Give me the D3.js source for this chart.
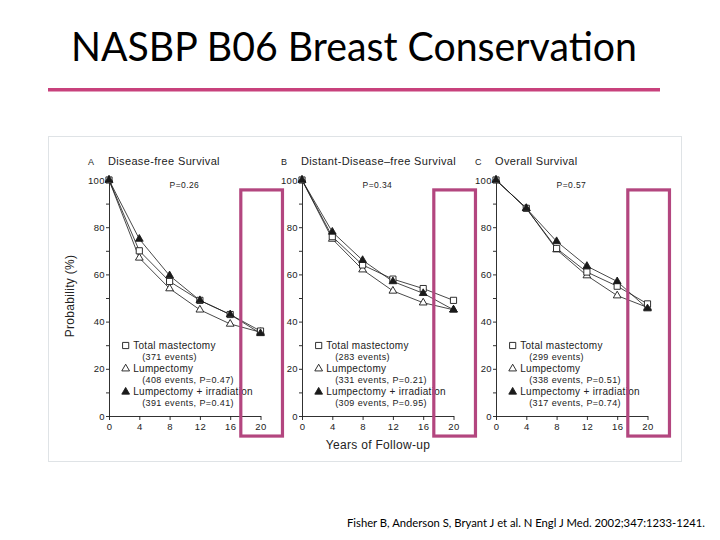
<!DOCTYPE html>
<html><head><meta charset="utf-8">
<script src="https://cdn.jsdelivr.net/npm/d3@7"></script>
<style>html,body{margin:0;padding:0;background:#fff;}svg{display:block;}</style>
</head><body>
<script>
// ---- data ----
const years = [0, 4, 8, 12, 16, 20];
const yTicks = [0, 10, 20, 30, 40, 50, 60, 70, 80, 90, 100];
const panelLetters = ["A", "B", "C"];
const panelTitles = ["Disease-free Survival", "Distant-Disease\u2013free Survival", "Overall Survival"];
const pValues = ["P=0.26", "P=0.34", "P=0.57"];
const seriesNames = ["Total mastectomy", "Lumpectomy", "Lumpectomy + irradiation"];
const eventsMast = ["(371 events)", "(283 events)", "(299 events)"];
const eventsLump = ["(408 events, P=0.47)", "(331 events, P=0.21)", "(338 events, P=0.51)"];
const eventsIrr = ["(391 events, P=0.41)", "(309 events, P=0.95)", "(317 events, P=0.74)"];
const mastA = [100, 70, 57, 49, 43, 36];
const lumpA = [100, 67, 54, 45, 39, 35.5];
const irrA = [100, 75, 59.5, 49, 43, 35];
const mastB = [100, 76, 64, 58, 54, 49];
const lumpB = [100, 75, 62, 53, 48, 45];
const irrB = [100, 78, 66, 57, 52, 45];
const mastC = [100, 88, 71, 61, 55, 47.5];
const lumpC = [100, 88, 70.5, 59.5, 51, 46];
const irrC = [100, 88, 74, 63.5, 57, 45.5];
const highlightYears = [17.4, 22.9];
const highlightValues = [95.8, -8.5];
const titleText = "NASBP B06 Breast Conservation";
const footerText = "Fisher B, Anderson S, Bryant J et al.  N Engl J Med. 2002;347:1233-1241.";

const panelData = [[mastA, lumpA, irrA], [mastB, lumpB, irrB], [mastC, lumpC, irrC]];
const panelX0 = [109, 302, 496];
const panelW = 151.5;

const svg = d3.select("body").append("svg").attr("width", 720).attr("height", 540);
svg.append("rect").attr("width", 720).attr("height", 540).attr("fill", "#fff");

// title
svg.append("text").attr("x", 71).attr("y", 61)
  .attr("font-family", "Lato, 'Open Sans', sans-serif").attr("font-size", 40)
  .attr("textLength", 566).attr("lengthAdjust", "spacingAndGlyphs")
  .attr("fill", "#000").text(titleText);
svg.append("line").attr("x1", 48).attr("x2", 660).attr("y1", 89.8).attr("y2", 89.8)
  .attr("stroke", "#c8417c").attr("stroke-width", 3.4);

// image frame
svg.append("rect").attr("x", 48.5).attr("y", 136.5).attr("width", 633).attr("height", 325)
  .attr("fill", "#fff").attr("stroke", "#dfe3e6").attr("stroke-width", 1);

const y = d3.scaleLinear().domain([0, 100]).range([416, 180]);
const FONT = "'Liberation Sans', Arial, sans-serif";
const ink = "#1a1a1a";

panelData.forEach((series, i) => {
  const x = d3.scaleLinear().domain([0, 20]).range([panelX0[i], panelX0[i] + panelW]);
  const g = svg.append("g");

  // axes
  const ya = g.append("g").attr("transform", `translate(${panelX0[i]},0)`)
    .call(d3.axisLeft(y).tickValues(yTicks).tickSize(3).tickSizeOuter(0)
      .tickFormat(d => d % 20 === 0 ? d : ""));
  const xa = g.append("g").attr("transform", `translate(0,${y(0)})`)
    .call(d3.axisBottom(x).tickValues(years).tickSize(4).tickSizeOuter(0));
  [ya, xa].forEach(a => {
    a.selectAll("path,line").attr("stroke", ink).attr("stroke-width", 0.9);
    a.selectAll("text").attr("font-family", FONT).attr("font-size", 9.5)
      .attr("letter-spacing", 0.4).attr("fill", "#222");
  });
  ya.selectAll("text").attr("x", -4);
  xa.selectAll("text").attr("y", 7);

  // panel title
  g.append("text").attr("x", panelX0[i] - 21).attr("y", 165).attr("font-family", FONT)
    .attr("font-size", 9).attr("fill", "#222").text(panelLetters[i]);
  g.append("text").attr("x", panelX0[i] - 1).attr("y", 165).attr("font-family", FONT)
    .attr("font-size", 11).attr("letter-spacing", 0.35).attr("fill", "#222").text(panelTitles[i]);
  g.append("text").attr("x", x(8.0)).attr("y", y(96.5)).attr("font-family", FONT)
    .attr("font-size", 8.5).attr("letter-spacing", 0.4).attr("fill", "#222").text(pValues[i]);

  // lines
  const line = d3.line().x((d, k) => x(years[k])).y(d => y(d));
  series.forEach(s => {
    g.append("path").datum(s).attr("d", line).attr("fill", "none")
      .attr("stroke", ink).attr("stroke-width", 0.8);
  });

  // markers
  const tri = d3.symbol().type(d3.symbolTriangle).size(26);
  const sq = d3.symbol().type(d3.symbolSquare).size(38);
  const drawMarkers = (s, shape, fill) => {
    g.selectAll(null).data(s).enter().append("path")
      .attr("transform", (d, k) => `translate(${x(years[k])},${y(d)})`)
      .attr("d", shape).attr("fill", fill).attr("stroke", ink).attr("stroke-width", 0.9);
  };
  drawMarkers(series[1], tri, "#fff");
  drawMarkers(series[0], sq, "#fff");
  drawMarkers(series[2], tri, ink);

  // legend
  const lx = x(2.2);
  const rows = [
    [seriesNames[0], eventsMast[i], sq, "#fff"],
    [seriesNames[1], eventsLump[i], tri, "#fff"],
    [seriesNames[2], eventsIrr[i], tri, ink]
  ];
  rows.forEach((r, k) => {
    const yy = 345.5 + k * 23.2;
    g.append("path").attr("transform", `translate(${lx},${yy})`).attr("d", r[2])
      .attr("fill", r[3]).attr("stroke", ink).attr("stroke-width", 0.9);
    g.append("text").attr("x", lx + 7.5).attr("y", yy + 3.5).attr("font-family", FONT)
      .attr("font-size", 10).attr("letter-spacing", 0.3).attr("fill", "#222").text(r[0]);
    g.append("text").attr("x", lx + 16.5).attr("y", yy + 14.5).attr("font-family", FONT)
      .attr("font-size", 9).attr("letter-spacing", 0.4).attr("fill", "#222").text(r[1]);
  });

  // highlight box
  g.append("rect")
    .attr("x", x(highlightYears[0])).attr("y", y(highlightValues[0]))
    .attr("width", x(highlightYears[1]) - x(highlightYears[0]))
    .attr("height", y(highlightValues[1]) - y(highlightValues[0]))
    .attr("fill", "none").attr("stroke", "#b3467f").attr("stroke-width", 3.2);
});

// axis titles
svg.append("text").attr("transform", "translate(74,296) rotate(-90)")
  .attr("text-anchor", "middle").attr("font-family", FONT).attr("font-size", 12)
  .attr("letter-spacing", 0.3).attr("fill", "#222").text("Probability (%)");
svg.append("text").attr("x", 378).attr("y", 449).attr("text-anchor", "middle")
  .attr("font-family", FONT).attr("font-size", 12).attr("letter-spacing", 0.3)
  .attr("fill", "#222").text("Years of Follow-up");

// footer
svg.append("text").attr("x", 705).attr("y", 527).attr("text-anchor", "end")
  .attr("font-family", "Lato, 'Open Sans', sans-serif").attr("font-size", 10.5)
  .attr("textLength", 358).attr("lengthAdjust", "spacingAndGlyphs")
  .attr("fill", "#000").text(footerText);
</script>
</body></html>
